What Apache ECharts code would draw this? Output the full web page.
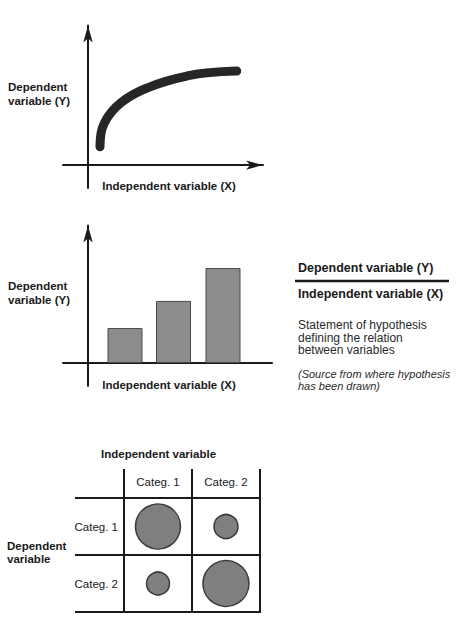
<!DOCTYPE html>
<html><head><meta charset="utf-8">
<script src="https://cdn.jsdelivr.net/npm/echarts@6/dist/echarts.min.js"></script>
<style>html,body{margin:0;padding:0;background:#fff}#c{width:463px;height:619px}</style>
</head><body><div id="c"></div>
<script>
// ---- data ----
const curveX = [0.48, 0.52, 0.68, 0.95, 1.28, 1.81, 2.48, 3.15, 3.95, 4.75, 5.95];
const curveY = [0.80, 1.38, 1.88, 2.32, 2.68, 3.07, 3.40, 3.65, 3.87, 4.01, 4.09];
const barX = [1.48, 3.42, 5.40];
const barY = [1.52, 2.70, 4.13];
const matrixCols = ['Categ. 1', 'Categ. 2'];
const matrixRows = ['Categ. 1', 'Categ. 2'];
const bubbleSizes = [[45, 24], [23, 46]]; // rows x cols
const yLabel = 'Dependent\nvariable (Y)';
const xLabel = 'Independent variable (X)';
const hypNumerator = 'Dependent variable (Y)';
const hypDenominator = 'Independent variable (X)';
const statementText = 'Statement of hypothesis\ndefining the relation\nbetween variables';
const sourceText = '(Source from where hypothesis\nhas been drawn)';
const matrixXTitle = 'Independent variable';
const matrixYTitle = 'Dependent\nvariable';

// ---- chart ----
const FONT = '"Liberation Sans", Arial, Helvetica, sans-serif';
const INK = '#1a1a1a';
const axisLS = { color: INK, width: 2 };
const nameStyle = { fontFamily: FONT, fontWeight: 'bold', fontSize: 11.5, color: INK };
const bubbles = [];
matrixRows.forEach((r, ri) => matrixCols.forEach((c, ci) => bubbles.push([c, r, bubbleSizes[ri][ci]])));

const chart = echarts.init(document.getElementById('c'), null, { renderer: 'svg' });
chart.setOption({
  animation: false,
  backgroundColor: '#fff',
  grid: [
    { left: 63, top: 25.5, width: 200, height: 162.6 },
    { left: 63, top: 225.5, width: 209, height: 160.5 },
    { left: 124, top: 498, width: 136, height: 114, show: true, borderColor: INK, borderWidth: 2 }
  ],
  xAxis: [
    { gridIndex: 0, type: 'value', min: -1, max: 7,
      axisLine: { onZero: true, lineStyle: axisLS, symbol: ['none', 'arrow'], symbolSize: [7, 17] },
      axisTick: { show: false }, axisLabel: { show: false }, splitLine: { show: false },
      name: xLabel, nameLocation: 'middle', nameGap: -8,
      nameTextStyle: Object.assign({ padding: [0, 0, 0, 12] }, nameStyle) },
    { gridIndex: 1, type: 'value', min: -1, max: 7.36,
      axisLine: { onZero: true, lineStyle: axisLS },
      axisTick: { show: false }, axisLabel: { show: false }, splitLine: { show: false },
      name: xLabel, nameLocation: 'middle', nameGap: -7,
      nameTextStyle: Object.assign({ padding: [0, 0, 0, 3] }, nameStyle) },
    { gridIndex: 2, type: 'category', data: matrixCols, position: 'top',
      axisLine: { lineStyle: axisLS },
      axisTick: { show: true, length: 29, lineStyle: axisLS },
      axisLabel: { margin: 10, fontFamily: FONT, fontSize: 11.5, color: INK },
      splitLine: { show: true, lineStyle: axisLS } }
  ],
  yAxis: [
    { gridIndex: 0, type: 'value', min: -1, max: 6.07,
      axisLine: { onZero: true, lineStyle: axisLS, symbol: ['none', 'arrow'], symbolSize: [7, 17] },
      axisTick: { show: false }, axisLabel: { show: false }, splitLine: { show: false } },
    { gridIndex: 1, type: 'value', min: -1, max: 5.98,
      axisLine: { onZero: true, lineStyle: axisLS, symbol: ['none', 'arrow'], symbolSize: [7, 17] },
      axisTick: { show: false }, axisLabel: { show: false }, splitLine: { show: false } },
    { gridIndex: 2, type: 'category', data: matrixRows, inverse: true,
      axisLine: { lineStyle: axisLS },
      axisTick: { show: true, length: 49, lineStyle: axisLS },
      axisLabel: { margin: 6, fontFamily: FONT, fontSize: 11.5, color: INK },
      splitLine: { show: true, lineStyle: axisLS } }
  ],
  graphic: [
    { type: 'text', left: 8, top: 80, style: { text: yLabel, font: 'bold 11.5px ' + FONT, fill: INK, lineHeight: 14 } },
    { type: 'text', left: 8, top: 279, style: { text: yLabel, font: 'bold 11.5px ' + FONT, fill: INK, lineHeight: 14 } },
    { type: 'text', left: 298, top: 260.5, style: { text: hypNumerator, font: 'bold 12.5px ' + FONT, fill: INK, lineHeight: 15 } },
    { type: 'line', shape: { x1: 295, y1: 281, x2: 449, y2: 281 }, style: { stroke: INK, lineWidth: 2.5 } },
    { type: 'text', left: 298, top: 286.5, style: { text: hypDenominator, font: 'bold 12.5px ' + FONT, fill: INK, lineHeight: 15 } },
    { type: 'text', left: 298, top: 319, style: { text: statementText, font: '12px ' + FONT, fill: '#2a2a2a', lineHeight: 12.5 } },
    { type: 'text', left: 298, top: 368, style: { text: sourceText, font: 'italic 11px ' + FONT, fill: '#2a2a2a', lineHeight: 12 } },
    { type: 'text', left: 101, top: 447, style: { text: matrixXTitle, font: 'bold 11.5px ' + FONT, fill: INK, lineHeight: 14 } },
    { type: 'text', left: 7, top: 539.5, style: { text: matrixYTitle, font: 'bold 11.5px ' + FONT, fill: INK, lineHeight: 13 } }
  ],
  series: [
    { type: 'line', xAxisIndex: 0, yAxisIndex: 0, data: curveX.map((x, i) => [x, curveY[i]]),
      smooth: true, symbol: 'none', silent: true,
      lineStyle: { width: 9, color: '#262626', cap: 'round' } },
    { type: 'bar', xAxisIndex: 1, yAxisIndex: 1, data: barX.map((x, i) => [x, barY[i]]),
      barWidth: 35, itemStyle: { color: '#8c8c8c', borderColor: '#4a4a4a', borderWidth: 1 } },
    { type: 'scatter', xAxisIndex: 2, yAxisIndex: 2, data: bubbles,
      symbolSize: v => v[2], itemStyle: { color: '#7f7f7f', borderColor: '#3a3a3a', borderWidth: 1.5, opacity: 1 } }
  ]
});
</script>
</body></html>
